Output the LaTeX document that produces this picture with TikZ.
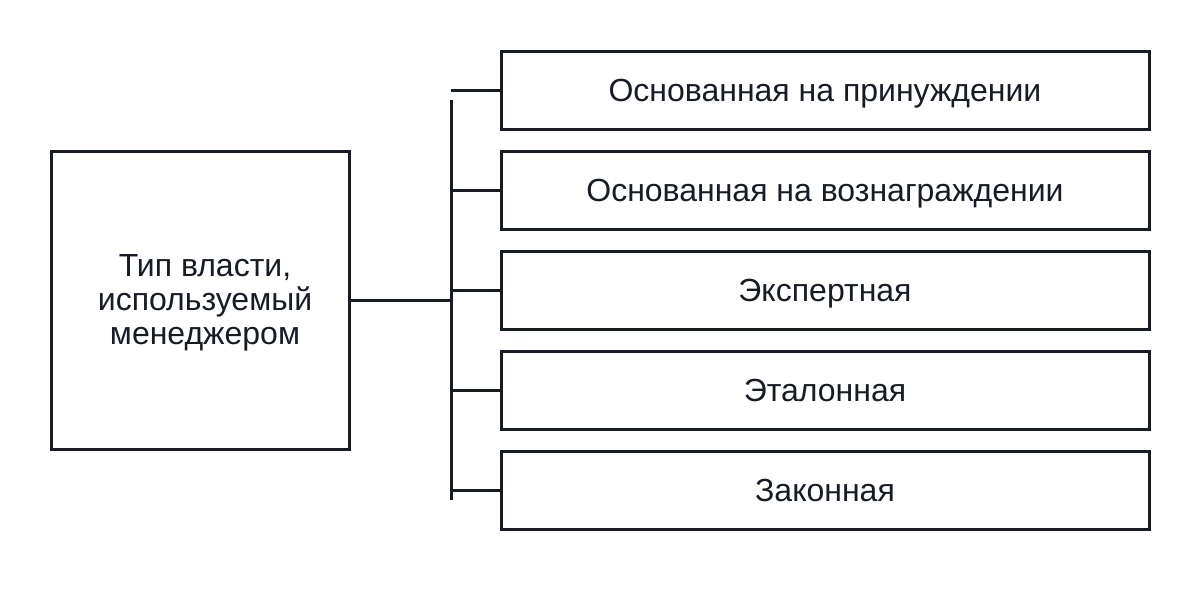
\documentclass[tikz,border=0pt]{standalone}
\usepackage{fontspec}
\setmainfont{Liberation Sans}
\definecolor{ink}{HTML}{161B26}
\begin{document}
\begin{tikzpicture}[x=1pt,y=-1pt,
  box/.style={draw=ink,line width=3pt,minimum width=648pt,minimum height=78pt,inner sep=0pt,font=\fontsize{32}{38}\selectfont,text=ink,text depth=0pt},
  ln/.style={draw=ink,line width=3pt}]
\useasboundingbox (0,0) rectangle (1200,600);
\node[draw=ink,line width=3pt,minimum width=298pt,minimum height=298pt,text=ink] (L) at (200,300) {};
\node[align=center,font=\fontsize{32}{34}\selectfont,text=ink] (Lt) at (205,303) {Тип власти,\\используемый\\менеджером};
\node[box] (a) at (825,90) {Основанная на принуждении};
\node[box] (b) at (825,190) {Основанная на вознаграждении};
\node[box] (c) at (825,290) {Экспертная};
\node[box] (d) at (825,390) {Эталонная};
\node[box] (e) at (825,490) {Законная};
\coordinate (top) at (451,100);
\coordinate (bot) at (451,500);
\draw[ln] (top) -- (bot);
\draw[ln] (L.east) -- (451,300);
\foreach \n in {a,b,c,d,e} \draw[ln] (\n.west) -- (451,0 |- \n.west);
\end{tikzpicture}
\end{document}
